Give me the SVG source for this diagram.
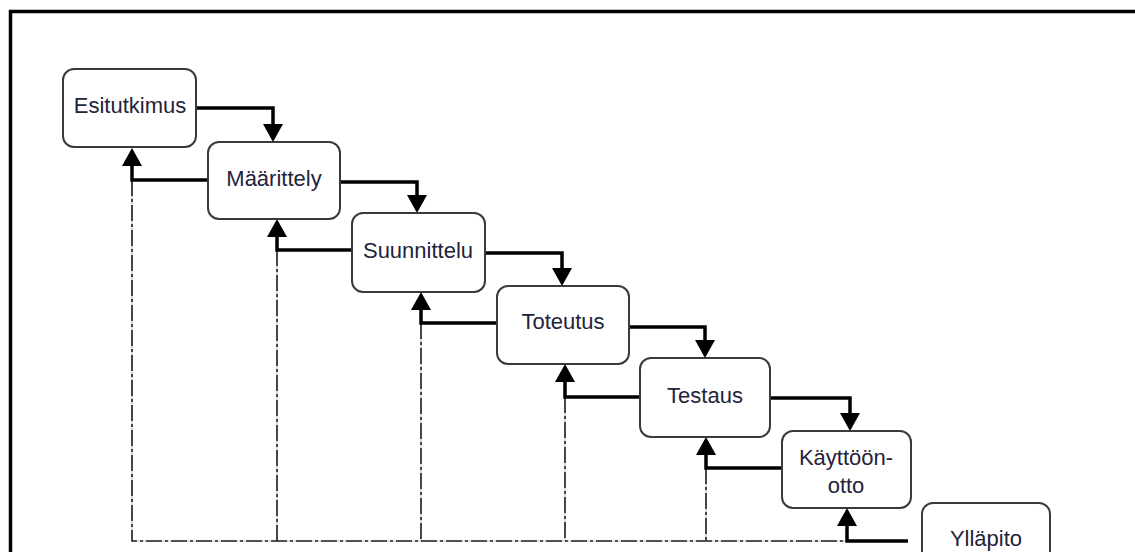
<svg xmlns="http://www.w3.org/2000/svg" width="1135" height="552" viewBox="0 0 1135 552">
<style>
.box{fill:#fff;stroke:#3a3a3a;stroke-width:2}
.lbl{font-family:"Liberation Sans",Arial,sans-serif;font-size:22px;fill:#23233a;text-anchor:middle}
.flow{fill:none;stroke:#000;stroke-width:3.5;stroke-linejoin:miter}
.fb-bg{fill:none;stroke:#c4c4c4;stroke-width:1.2}
.fb{fill:none;stroke:#222;stroke-width:1.6;stroke-dasharray:16 3 3 3}
</style>
<defs>
<marker id="ah" viewBox="0 0 18 20" refX="0" refY="10" markerWidth="18" markerHeight="20" markerUnits="userSpaceOnUse" orient="auto">
<path d="M0,0 L18,10 L0,20 z" fill="#000"/>
</marker>
</defs>
<rect width="1135" height="552" fill="#fff"/>
<path d="M10.5,552 V11.5 H1135" fill="none" stroke="#000" stroke-width="3.5"/>
<g id="connectors">
<path class="fb-bg" d="M132,180 V541 H847 M277,250 V541 M421,323 V541 M565,397 V541 M706,468 V541"/>
<path class="fb" d="M132,180 V541 H847"/>
<path class="fb" d="M277,250 V541"/>
<path class="fb" d="M421,323 V541"/>
<path class="fb" d="M565,397 V541"/>
<path class="fb" d="M706,468 V541"/>
<path class="flow" d="M196,108 H273 V124" marker-end="url(#ah)"/>
<path class="flow" d="M340,182 H417 V195" marker-end="url(#ah)"/>
<path class="flow" d="M485,253 H562 V268" marker-end="url(#ah)"/>
<path class="flow" d="M629,327 H705 V340" marker-end="url(#ah)"/>
<path class="flow" d="M770,398 H850 V413" marker-end="url(#ah)"/>
<path class="flow" d="M208,180 H132 V166" marker-end="url(#ah)"/>
<path class="flow" d="M352,250 H277 V237" marker-end="url(#ah)"/>
<path class="flow" d="M497,323 H421 V310" marker-end="url(#ah)"/>
<path class="flow" d="M640,397 H565 V382" marker-end="url(#ah)"/>
<path class="flow" d="M782,468 H706 V455" marker-end="url(#ah)"/>
<path class="flow" d="M908,541 H847 V526" marker-end="url(#ah)"/>
</g>
<g id="n1"><rect class="box" x="63" y="69" width="133" height="78" rx="11"/><text class="lbl" x="130" y="113">Esitutkimus</text></g>
<g id="n2"><rect class="box" x="208" y="142" width="132" height="77" rx="11"/><text class="lbl" x="274" y="186">Määrittely</text></g>
<g id="n3"><rect class="box" x="352" y="213" width="133" height="79" rx="11"/><text class="lbl" x="418" y="258">Suunnittelu</text></g>
<g id="n4"><rect class="box" x="497" y="286" width="132" height="78" rx="11"/><text class="lbl" x="563" y="329">Toteutus</text></g>
<g id="n5"><rect class="box" x="640" y="358" width="130" height="79" rx="11"/><text class="lbl" x="705" y="403">Testaus</text></g>
<g id="n6"><rect class="box" x="782" y="431" width="129" height="77" rx="11"/><text class="lbl" x="846" y="465">Käyttöön-</text><text class="lbl" x="846" y="493">otto</text></g>
<g id="n7"><rect class="box" x="922" y="503" width="128" height="78" rx="11"/><text class="lbl" x="986" y="546">Ylläpito</text></g>
</svg>
